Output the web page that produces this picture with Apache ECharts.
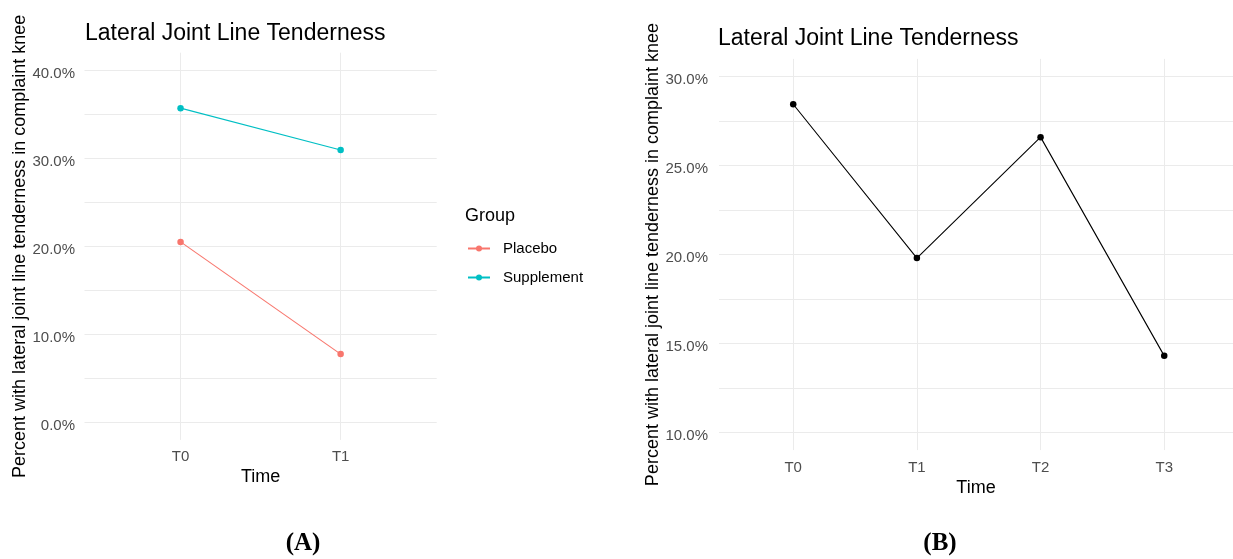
<!DOCTYPE html>
<html>
<head>
<meta charset="utf-8">
<script src="https://cdn.jsdelivr.net/npm/echarts@6/dist/echarts.min.js"></script>
<style>
  html, body { margin: 0; padding: 0; background: #ffffff; }
  #chart { width: 1233px; height: 559px; }
</style>
</head>
<body>
<div id="chart"></div>
<script>
// Panel A: two groups at two time points
const timesA = ['T0', 'T1'];
const placebo = [20.5, 7.75];
const supplement = [35.7, 30.95];
const ticksA = [0, 10, 20, 30, 40];
const minorA = [5, 15, 25, 35];

// Panel B: all participants over four time points
const timesB = ['T0', 'T1', 'T2', 'T3'];
const overall = [28.45, 19.8, 26.6, 14.3];
const ticksB = [10, 15, 20, 25, 30];
const minorB = [12.5, 17.5, 22.5, 27.5];

const FONT = '"Liberation Sans", Arial, sans-serif';
const SERIF = '"Liberation Serif", "DejaVu Serif", serif';
const GRID_COLOR = '#EBEBEB';
const TICK_TEXT = '#4D4D4D';
const pct = v => '{v|' + v.toFixed(1) + '%}';
const pairs = arr => arr.map((v, i) => [i, v]);

function xAxisFor(gridIndex, cats, min, max, nameGap, labelMargin) {
  const idx = cats.map((_, i) => i);
  return {
    type: 'value', gridIndex, min, max,
    name: 'Time', nameLocation: 'middle', nameGap, nameMoveOverlap: false,
    nameTextStyle: { fontFamily: FONT, fontSize: 18, color: '#000' },
    axisLine: { show: false },
    axisTick: { show: false, customValues: idx },
    axisLabel: {
      customValues: idx, formatter: v => cats[Math.round(v)],
      fontFamily: FONT, fontSize: 15, color: TICK_TEXT, margin: labelMargin
    },
    splitLine: { show: true, lineStyle: { color: GRID_COLOR, width: 1 } }
  };
}

function yAxisFor(gridIndex, ticks, min, max, nameGap, labelMargin) {
  return {
    type: 'value', gridIndex, min, max,
    name: 'Percent with lateral joint line tenderness in complaint knee',
    nameLocation: 'middle', nameGap, nameRotate: 90, nameMoveOverlap: false,
    nameTextStyle: { fontFamily: FONT, fontSize: 18, color: '#000' },
    axisLine: { show: false },
    axisTick: { show: false, customValues: ticks },
    axisLabel: {
      customValues: ticks, formatter: pct,
      fontFamily: FONT, fontSize: 15, color: TICK_TEXT, margin: labelMargin,
      rich: { v: { fontFamily: FONT, fontSize: 15, color: TICK_TEXT, padding: [7, 0, 0, 0] } }
    },
    splitLine: { show: true, lineStyle: { color: GRID_COLOR, width: 1 } }
  };
}

function minorAxisFor(gridIndex, ticks, min, max) {
  return {
    type: 'value', gridIndex, min, max,
    axisLine: { show: false },
    axisTick: { show: false, customValues: ticks },
    axisLabel: { show: false },
    splitLine: { show: true, lineStyle: { color: GRID_COLOR, width: 1 } }
  };
}

const lineSeries = (name, data, color, xi, yi) => ({
  name, type: 'line', data: pairs(data),
  xAxisIndex: xi, yAxisIndex: yi,
  symbol: 'circle', symbolSize: 6.5,
  lineStyle: { color, width: 1.1 },
  itemStyle: { color },
  silent: true, animation: false, z: 5
});

const titleStyle = { fontFamily: FONT, fontSize: 23, fontWeight: 'normal', color: '#000' };
const tagStyle = { fontFamily: SERIF, fontSize: 25, fontWeight: 'bold', color: '#000' };

const chart = echarts.init(document.getElementById('chart'), null, { renderer: 'canvas' });

chart.setOption({
  backgroundColor: '#ffffff',
  animation: false,
  title: [
    { text: 'Lateral Joint Line Tenderness', left: 80, top: 17, textStyle: titleStyle },
    { text: 'Lateral Joint Line Tenderness', left: 713, top: 22, textStyle: titleStyle },
    { text: 'Group', left: 460, top: 202,
      textStyle: { fontFamily: FONT, fontSize: 18, fontWeight: 'normal', color: '#000' } },
    { text: '(A)', left: 298, textAlign: 'center', top: 526, textStyle: tagStyle },
    { text: '(B)', left: 935, textAlign: 'center', top: 526, textStyle: tagStyle }
  ],
  legend: {
    orient: 'vertical', left: 462, top: 236,
    itemWidth: 22, itemHeight: 7.5, itemGap: 14,
    data: ['Placebo', 'Supplement'],
    textStyle: { fontFamily: FONT, fontSize: 15, color: '#000', padding: [0, 0, 0, 8] },
    selectedMode: false
  },
  grid: [
    { left: 84.5, top: 52.7, width: 352.2, height: 387.2 },
    { left: 719, width: 514, top: 58.9, height: 391.2 }
  ],
  xAxis: [
    xAxisFor(0, timesA, -0.6, 1.6, 28, 9),
    xAxisFor(1, timesB, -0.6, 3.556, 29, 10)
  ],
  yAxis: [
    yAxisFor(0, ticksA, -2, 42, 55, 9.5),
    minorAxisFor(0, minorA, -2, 42),
    yAxisFor(1, ticksB, 9, 31, 57, 11),
    minorAxisFor(1, minorB, 9, 31)
  ],
  series: [
    lineSeries('Placebo', placebo, '#F8766D', 0, 0),
    lineSeries('Supplement', supplement, '#00BFC4', 0, 0),
    lineSeries('Overall', overall, '#000000', 1, 2)
  ]
});
</script>
</body>
</html>
